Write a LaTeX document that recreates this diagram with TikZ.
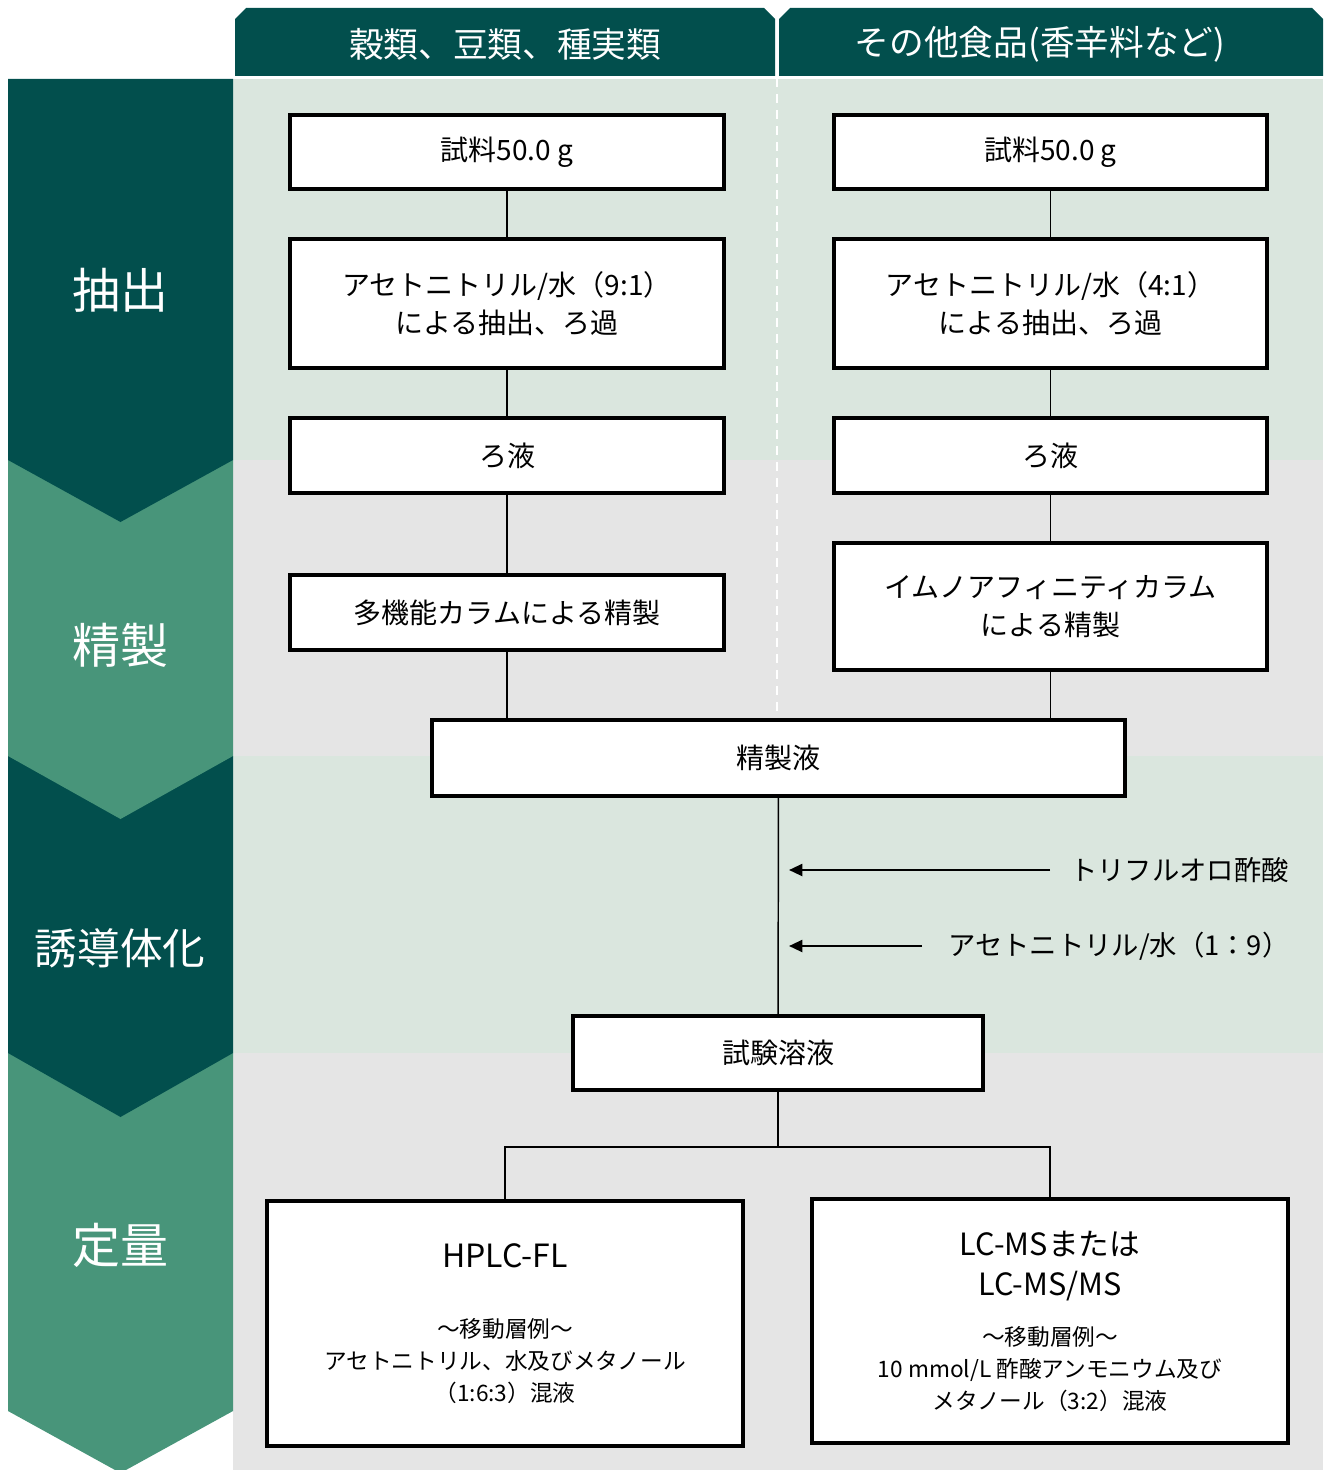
\documentclass[tikz,border=0pt]{standalone}
\usepackage{fontspec}
\setmainfont{Noto Sans CJK JP}
\usetikzlibrary{arrows.meta}
\definecolor{darkteal}{HTML}{024F4D}
\definecolor{midgreen}{HTML}{48957A}
\definecolor{bandgreen}{HTML}{DAE6DE}
\definecolor{bandgray}{HTML}{E5E5E5}
\begin{document}
\begin{tikzpicture}[x=0.75pt,y=-0.75pt,
  box/.style={draw=black, line width=2.3pt, fill=white, inner sep=0pt, align=center,
    font=\fontsize{21}{28.5}\selectfont},
  conn/.style={draw=black, line width=1.1pt},
  arr/.style={draw=black, line width=1.6pt, -{Triangle[length=10pt,width=9pt]}},
  stage/.style={text=white, font=\fontsize{36}{40}\selectfont, inner sep=0pt},
  head/.style={text=white, font=\fontsize{26}{30}\selectfont, inner sep=0pt},
  note/.style={font=\fontsize{20.5}{24}\selectfont, anchor=west, inner ysep=0pt}]
\useasboundingbox (0,0) rectangle (1325,1470);
% background bands
\fill[bandgreen] (233,79) rectangle (1323,460);
\fill[bandgray]  (233,460) rectangle (1323,756);
\fill[bandgreen] (233,756) rectangle (1323,1053);
\fill[bandgray]  (233,1053) rectangle (1323,1470);
% left stage column (bottom to top so chevrons overlap)
\fill[midgreen] (8,1053) -- (233,1053) -- (233,1411) -- (120.5,1473) -- (8,1411) -- cycle;
\fill[darkteal] (8,756) -- (233,756) -- (233,1053) -- (120.5,1117) -- (8,1053) -- cycle;
\fill[midgreen] (8,460) -- (233,460) -- (233,756) -- (120.5,819) -- (8,756) -- cycle;
\fill[darkteal] (8,79) -- (233,79) -- (233,460) -- (120.5,522) -- (8,460) -- cycle;
\node[stage] (s1) at (120,290) {抽出};
\node[stage] (s2) at (120,645) {精製};
\node[stage, font=\fontsize{32}{36}\selectfont] (s3) at (120,948) {誘導体化};
\node[stage] (s4) at (120,1245) {定量};
% headers
\fill[darkteal] (235,76) -- (235,19) -- (246,8) -- (764,8) -- (775,19) -- (775,76) -- cycle;
\fill[darkteal] (779,76) -- (779,19) -- (790,8) -- (1312,8) -- (1323,19) -- (1323,76) -- cycle;
\node[head] (h1) at (505,44) {穀類、豆類、種実類};
\node[head] (h2) at (1040,44) {その他食品(香辛料など)};
% dashed divider
\draw[white, line width=1.2pt, dash pattern=on 7pt off 5pt] (777,78) -- (777,719);
% left column boxes
\node[box, minimum width=325.5pt, minimum height=55.5pt] (l1) at (507,152) {試料50.0 g};
\node[box, minimum width=325.5pt, minimum height=96.75pt] (l2) at (507,303.5) {アセトニトリル/水（9:1）\\による抽出、ろ過};
\node[box, minimum width=325.5pt, minimum height=56.25pt] (l3) at (507,455.5) {ろ液};
\node[box, minimum width=325.5pt, minimum height=56.25pt] (l4) at (507,612.5) {多機能カラムによる精製};
% right column boxes
\node[box, minimum width=324.75pt, minimum height=55.5pt] (r1) at (1050.5,152) {試料50.0 g};
\node[box, minimum width=324.75pt, minimum height=96.75pt] (r2) at (1050.5,303.5) {アセトニトリル/水（4:1）\\による抽出、ろ過};
\node[box, minimum width=324.75pt, minimum height=56.25pt] (r3) at (1050.5,455.5) {ろ液};
\node[box, minimum width=324.75pt, minimum height=95.25pt] (r4) at (1050.5,606.5) {イムノアフィニティカラム\\による精製};
% merged boxes
\node[box, minimum width=519.75pt, minimum height=57pt] (pur) at (778.5,758) {精製液};
\node[box, minimum width=307.5pt, minimum height=55.5pt] (test) at (778,1053) {試験溶液};
\node[box, minimum width=357pt, minimum height=183.75pt, font=\fontsize{17}{24}\selectfont] (hplc) at (505,1323.5)
  {{\fontsize{24}{24}\selectfont HPLC-FL}\\[28.5pt]～移動層例～\\アセトニトリル、水及びメタノール\\（1:6:3）混液};
\node[box, minimum width=357pt, minimum height=183pt, font=\fontsize{17}{24}\selectfont] (lcms) at (1050,1321)
  {{\fontsize{23}{24}\selectfont LC-MSまたは}\\[6pt]{\fontsize{23}{24}\selectfont LC-MS/MS}\\[13.5pt]～移動層例～\\10 mmol/L 酢酸アンモニウム及び\\メタノール（3:2）混液};
% connectors
\draw[conn] (l1) -- (l2);
\draw[conn] (l2) -- (l3);
\draw[conn] (l3) -- (l4);
\draw[conn] (l4.south) -- (l4.south |- pur.north);
\draw[conn] (r1) -- (r2);
\draw[conn] (r2) -- (r3);
\draw[conn] (r3) -- (r4);
\draw[conn] (r4.south) -- (r4.south |- pur.north);
\draw[conn] (pur) -- (test);
\coordinate (sp) at (778,1147);
\draw[conn] (test.south) -- (sp);
\draw[conn] (hplc.north) |- (sp) -| (lcms.north);
% reagent additions
\coordinate (tipx) at (789,0);
\node[note, inner xsep=15pt] (tfa) at (1050,870) {トリフルオロ酢酸};
\node[note, inner xsep=19.5pt] (acn) at (922,946) {アセトニトリル/水（1：9）};
\draw[arr] (tfa.west) -- (tfa.west -| tipx);
\draw[arr] (acn.west) -- (acn.west -| tipx);
\end{tikzpicture}
\end{document}
